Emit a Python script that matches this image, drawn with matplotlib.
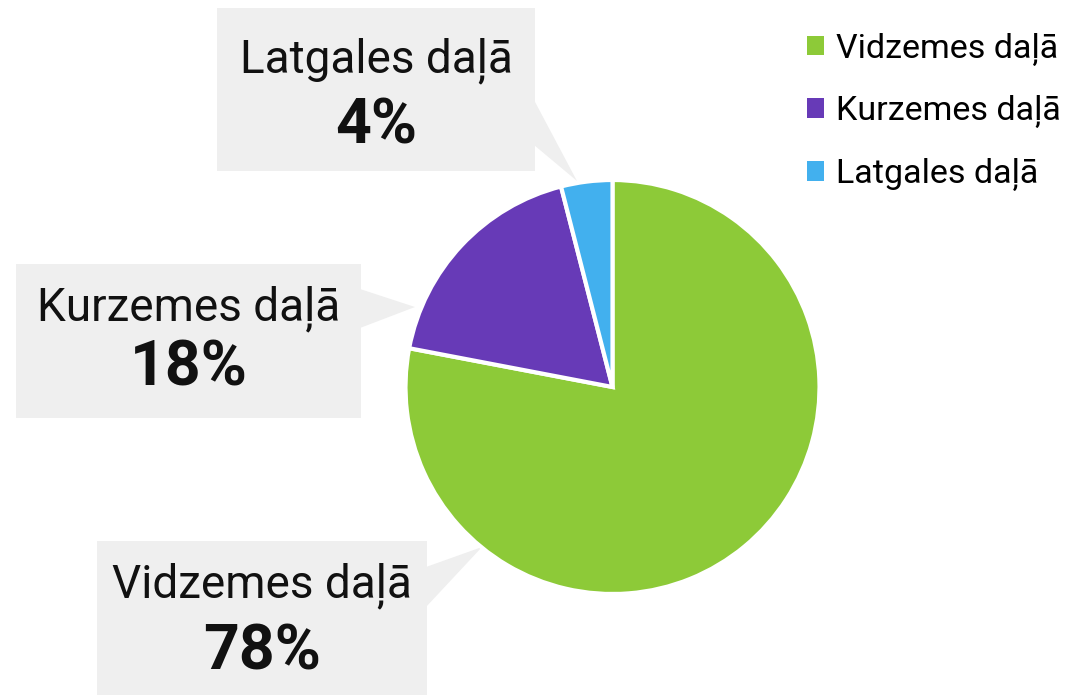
import matplotlib.pyplot as plt
from matplotlib.patches import Polygon, Rectangle

# data
labels = ['Vidzemes daļā', 'Kurzemes daļā', 'Latgales daļā']
shares = [78, 18, 4]
colors = ['#8dca38', '#673ab7', '#42b0ee']

plt.rcParams['font.family'] = ['Roboto', 'DejaVu Sans']

W, H = 1071, 695
fig = plt.figure(figsize=(W / 100, H / 100), dpi=100)
ax = fig.add_axes([0, 0, 1, 1])


def Y(y):
    # image pixel row -> axes y
    return H - y


wedges, _ = ax.pie(shares, colors=colors, startangle=90, counterclock=False,
                   center=(612.5, Y(387)), radius=207, frame=True,
                   wedgeprops=dict(edgecolor='white', linewidth=3))
ax.set_xlim(0, W)
ax.set_ylim(0, H)
ax.set_aspect('equal')
ax.axis('off')

# callout boxes: box (x0, y0, x1, y1), pointer base y range, tip, text baselines
callouts = {
    'Latgales daļā': dict(box=(217, 8, 535, 171), base=(100, 145),
                          tip=(577, 181), lab_y=72, pct_y=143),
    'Kurzemes daļā': dict(box=(16, 264, 361, 418), base=(289, 328),
                          tip=(415, 307), lab_y=320, pct_y=385),
    'Vidzemes daļā': dict(box=(97, 541, 427, 700), base=(567, 607),
                          tip=(482, 547), lab_y=597, pct_y=670),
}
grey = '#efefef'
for lab, val in zip(labels, shares):
    c = callouts[lab]
    x0, y0, x1, y1 = c['box']
    ax.add_patch(Rectangle((x0, Y(y1)), x1 - x0, y1 - y0, facecolor=grey,
                           edgecolor='none', zorder=0))
    b0, b1 = c['base']
    ax.add_patch(Polygon([(x1 - 1, Y(b0)), (c['tip'][0], Y(c['tip'][1])), (x1 - 1, Y(b1))],
                         closed=True, facecolor=grey, edgecolor='none', zorder=0))
    cx = (x0 + x1) / 2
    ax.text(cx, Y(c['lab_y']), lab, ha='center', va='baseline', fontsize=33,
            color='#111111')
    ax.text(cx, Y(c['pct_y']), f'{val}%', ha='center', va='baseline', fontsize=45,
            fontweight='bold', color='#111111')

leg = ax.legend(wedges, labels, loc='upper left', bbox_to_anchor=(793 / W, 1 - 19 / H),
                frameon=False, fontsize=24.5, handlelength=0.5, handleheight=0.5,
                handletextpad=0.35, labelspacing=0.87, borderaxespad=0)
for h in leg.legend_handles:
    h.set_edgecolor('none')

fig.savefig('out.png', dpi=100)
